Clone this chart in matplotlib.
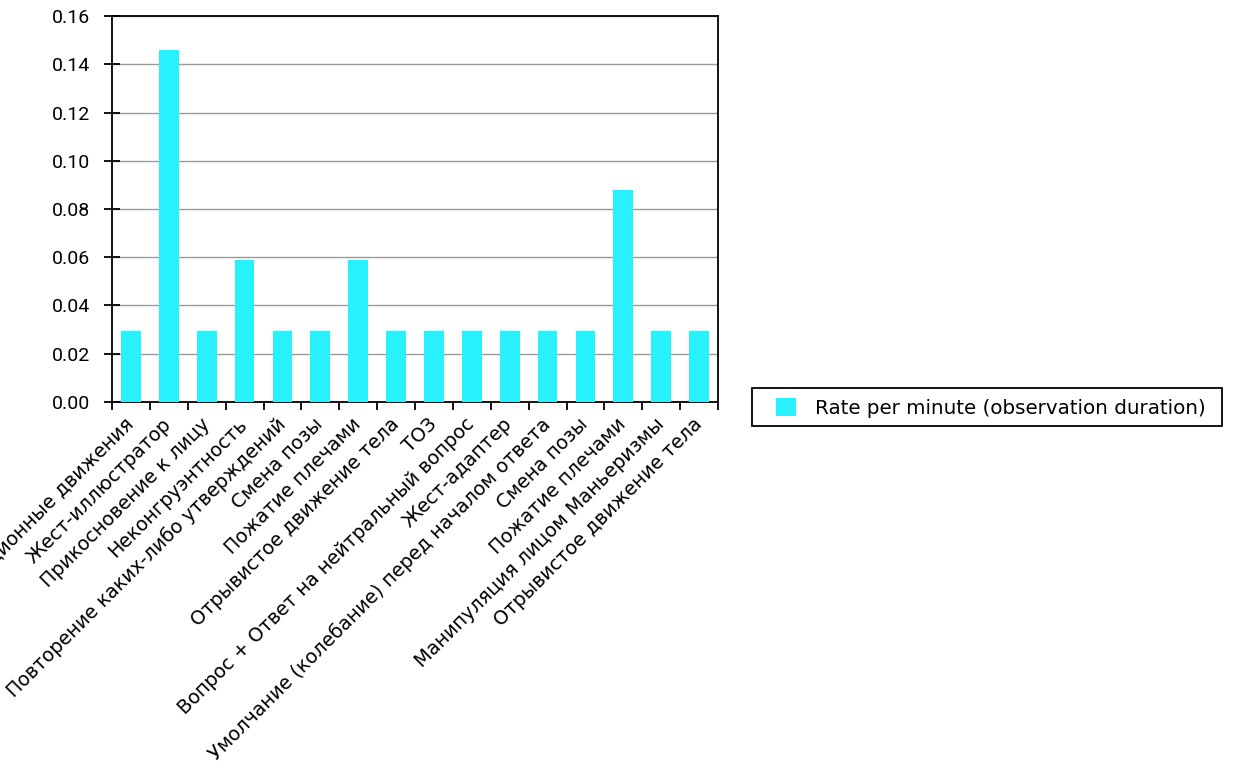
import matplotlib
matplotlib.use("Agg")
import matplotlib.pyplot as plt
from matplotlib.patches import Rectangle
import numpy as np

categories = [
    "Компенсационные движения",
    "Жест-иллюстратор",
    "Прикосновение к лицу",
    "Неконгруэнтность",
    "Повторение каких-либо утверждений",
    "Смена позы",
    "Пожатие плечами",
    "Отрывистое движение тела",
    "ТОЗ",
    "Вопрос + Ответ на нейтральный вопрос",
    "Жест-адаптер",
    "Умолчание (колебание) перед началом ответа",
    "Смена позы",
    "Пожатие плечами",
    "Манипуляция лицом Маньеризмы",
    "Отрывистое движение тела",
]
values = [0.0294, 0.146, 0.0294, 0.0588, 0.0294, 0.0294, 0.0588, 0.0294,
          0.0294, 0.0294, 0.0294, 0.0294, 0.0294, 0.0878, 0.0294, 0.0294]
series_name = "Rate per minute (observation duration)"
yticks = [0.00, 0.02, 0.04, 0.06, 0.08, 0.10, 0.12, 0.14, 0.16]

W, H = 1237, 780
fig = plt.figure(figsize=(W / 100, H / 100), dpi=100)
ax = fig.add_axes([112 / W, 1 - 402 / H, (718 - 112) / W, (402 - 16) / H])

x = np.arange(len(categories))
bars = ax.bar(x, values, width=0.52, color="#26F1FC", zorder=3, label=series_name)

ax.set_xlim(-0.5, len(categories) - 0.5)
ax.set_ylim(0, 0.16)
ax.set_yticks(yticks)
ax.set_yticklabels([f"{v:.2f}" for v in yticks], fontsize=14, family="Roboto")
ax.yaxis.grid(True, color="#999999", linewidth=1, zorder=0)
ax.tick_params(axis="y", direction="inout", length=12, width=1.3, pad=10)

ax.set_xticks(np.arange(-0.5, len(categories) + 0.5, 1), minor=False)
ax.set_xticklabels([])
ax.tick_params(axis="x", direction="out", length=6, width=1.3)
ax.set_xticks(x, minor=True)
ax.set_xticklabels(categories, minor=True, rotation=45, ha="right", va="center",
                   rotation_mode="anchor", fontsize=13.9, family="DejaVu Sans")
ax.tick_params(axis="x", which="minor", length=0, pad=14)

for s in ax.spines.values():
    s.set_color("black")
    s.set_linewidth(1.3)

# legend: frame drawn at the reference box position, content placed inside
frame = Rectangle((752 / W, 1 - 426 / H), (1222 - 752) / W, (426 - 388) / H,
                  transform=fig.transFigure, facecolor="white", edgecolor="black",
                  linewidth=1.3, zorder=1)
fig.add_artist(frame)
leg = fig.legend(handles=[bars], labels=[series_name], loc="center left",
                 bbox_to_anchor=(776 / W, 1 - 408 / H), frameon=False,
                 prop={"family": "DejaVu Sans", "size": 14.3},
                 handlelength=1.0, handleheight=1.0, borderpad=0,
                 handletextpad=0.95, borderaxespad=0)
leg.set_zorder(2)

fig.savefig("out.png", dpi=100)
